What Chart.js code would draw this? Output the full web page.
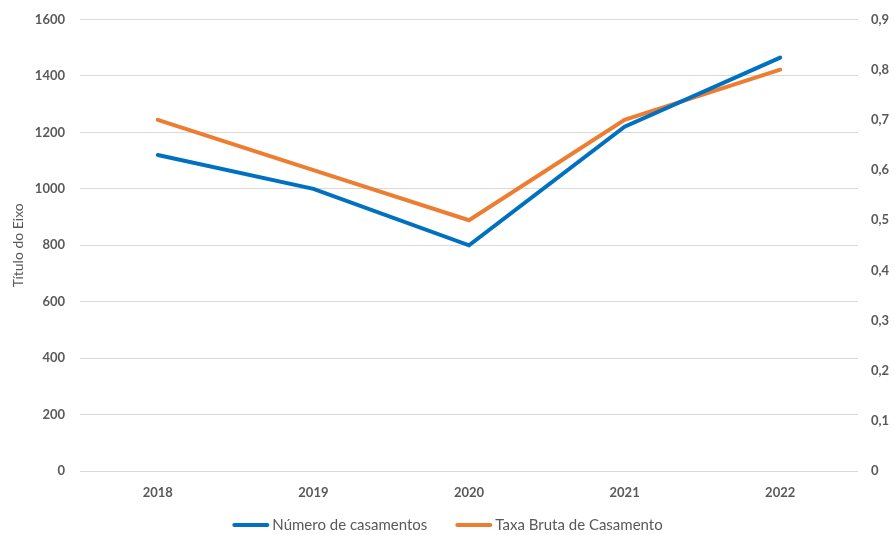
<!DOCTYPE html>
<html>
<head>
<meta charset="utf-8">
<script src="https://cdn.jsdelivr.net/npm/chart.js@4/dist/chart.umd.min.js"></script>
<style>
  html, body { margin: 0; padding: 0; background: #fff; }
  #wrap { width: 895px; height: 535px; position: relative; }
</style>
</head>
<body>
<div id="wrap"><canvas id="c" width="895" height="535"></canvas></div>
<script>
const categories = ['2018', '2019', '2020', '2021', '2022'];
const casamentos = [1120, 1000, 800, 1220, 1465];
const taxaBruta = [0.7, 0.6, 0.5, 0.7, 0.8];
const leftTicks = [0, 200, 400, 600, 800, 1000, 1200, 1400, 1600];
const rightTicks = [0, 0.1, 0.2, 0.3, 0.4, 0.5, 0.6, 0.7, 0.8, 0.9];

const grey = '#595959';
const fontFamily = 'Lato, "Open Sans", sans-serif';
const tickFont = { family: fontFamily, size: 13, weight: 'bold', lineHeight: 1 };
const yTickFont = { family: fontFamily, size: 13, weight: 'bold', lineHeight: 0.7 };

// Bottom legend drawn from the datasets (line swatch + label), Excel style
const bottomLegend = {
  id: 'bottomLegend',
  afterDraw(chart) {
    const ctx = chart.ctx;
    const sets = chart.data.datasets;
    const lineW = 37, gapText = 3, gapItem = 28;
    ctx.save();
    ctx.font = '15px ' + fontFamily;
    const widths = sets.map(ds => lineW + gapText + ctx.measureText(ds.label).width);
    const total = widths.reduce((a, b) => a + b, 0) + gapItem * (sets.length - 1);
    let x = (chart.width - total) / 2;
    const y = 525;
    sets.forEach((ds, i) => {
      ctx.strokeStyle = ds.borderColor;
      ctx.lineWidth = 4;
      ctx.lineCap = 'round';
      ctx.beginPath();
      ctx.moveTo(x + 2, y);
      ctx.lineTo(x + lineW - 2, y);
      ctx.stroke();
      ctx.fillStyle = grey;
      ctx.textBaseline = 'middle';
      ctx.textAlign = 'left';
      ctx.fillText(ds.label, x + lineW + gapText, y);
      x += widths[i] + gapItem;
    });
    ctx.restore();
  }
};

new Chart(document.getElementById('c'), {
  type: 'line',
  data: {
    labels: categories,
    datasets: [
      {
        label: 'Número de casamentos',
        data: casamentos,
        yAxisID: 'y',
        borderColor: '#0070C0',
        backgroundColor: '#0070C0',
        borderWidth: 4,
        pointRadius: 0,
        tension: 0,
        borderCapStyle: 'round'
      },
      {
        label: 'Taxa Bruta de Casamento',
        data: taxaBruta,
        yAxisID: 'y1',
        borderColor: '#ED7D31',
        backgroundColor: '#ED7D31',
        borderWidth: 4,
        pointRadius: 0,
        tension: 0,
        borderCapStyle: 'round'
      }
    ]
  },
  plugins: [bottomLegend],
  options: {
    responsive: false,
    animation: false,
    layout: { padding: { top: 0, bottom: 22, left: 0, right: 0 } },
    plugins: {
      legend: { display: false },
      tooltip: { enabled: false }
    },
    scales: {
      x: {
        offset: true,
        grid: { display: false, offset: true },
        border: { display: false },
        afterFit: (axis) => { axis.height = 42; },
        ticks: { color: grey, font: tickFont, padding: 7 }
      },
      y: {
        position: 'left',
        min: 0,
        max: 1600,
        afterBuildTicks: (axis) => { axis.ticks = leftTicks.map(v => ({ value: v })); },
        afterFit: (axis) => { axis.width = 80; },
        grid: { color: '#d9d9d9', lineWidth: 1, drawTicks: false },
        border: { display: false },
        ticks: { color: grey, font: yTickFont, padding: 15, callback: (v) => String(v) },
        title: {
          display: true,
          text: 'Título do Eixo',
          color: grey,
          font: { family: fontFamily, size: 14 },
          padding: { top: 10, bottom: 0 }
        }
      },
      y1: {
        position: 'right',
        min: 0,
        max: 0.9,
        afterBuildTicks: (axis) => { axis.ticks = rightTicks.map(v => ({ value: v })); },
        afterFit: (axis) => { axis.width = 37; },
        grid: { display: false, drawTicks: false },
        border: { display: false },
        ticks: {
          color: grey,
          font: yTickFont,
          padding: 13,
          callback: (v) => String(Math.round(v * 10) / 10).replace('.', ',')
        }
      }
    }
  }
});
</script>
</body>
</html>
